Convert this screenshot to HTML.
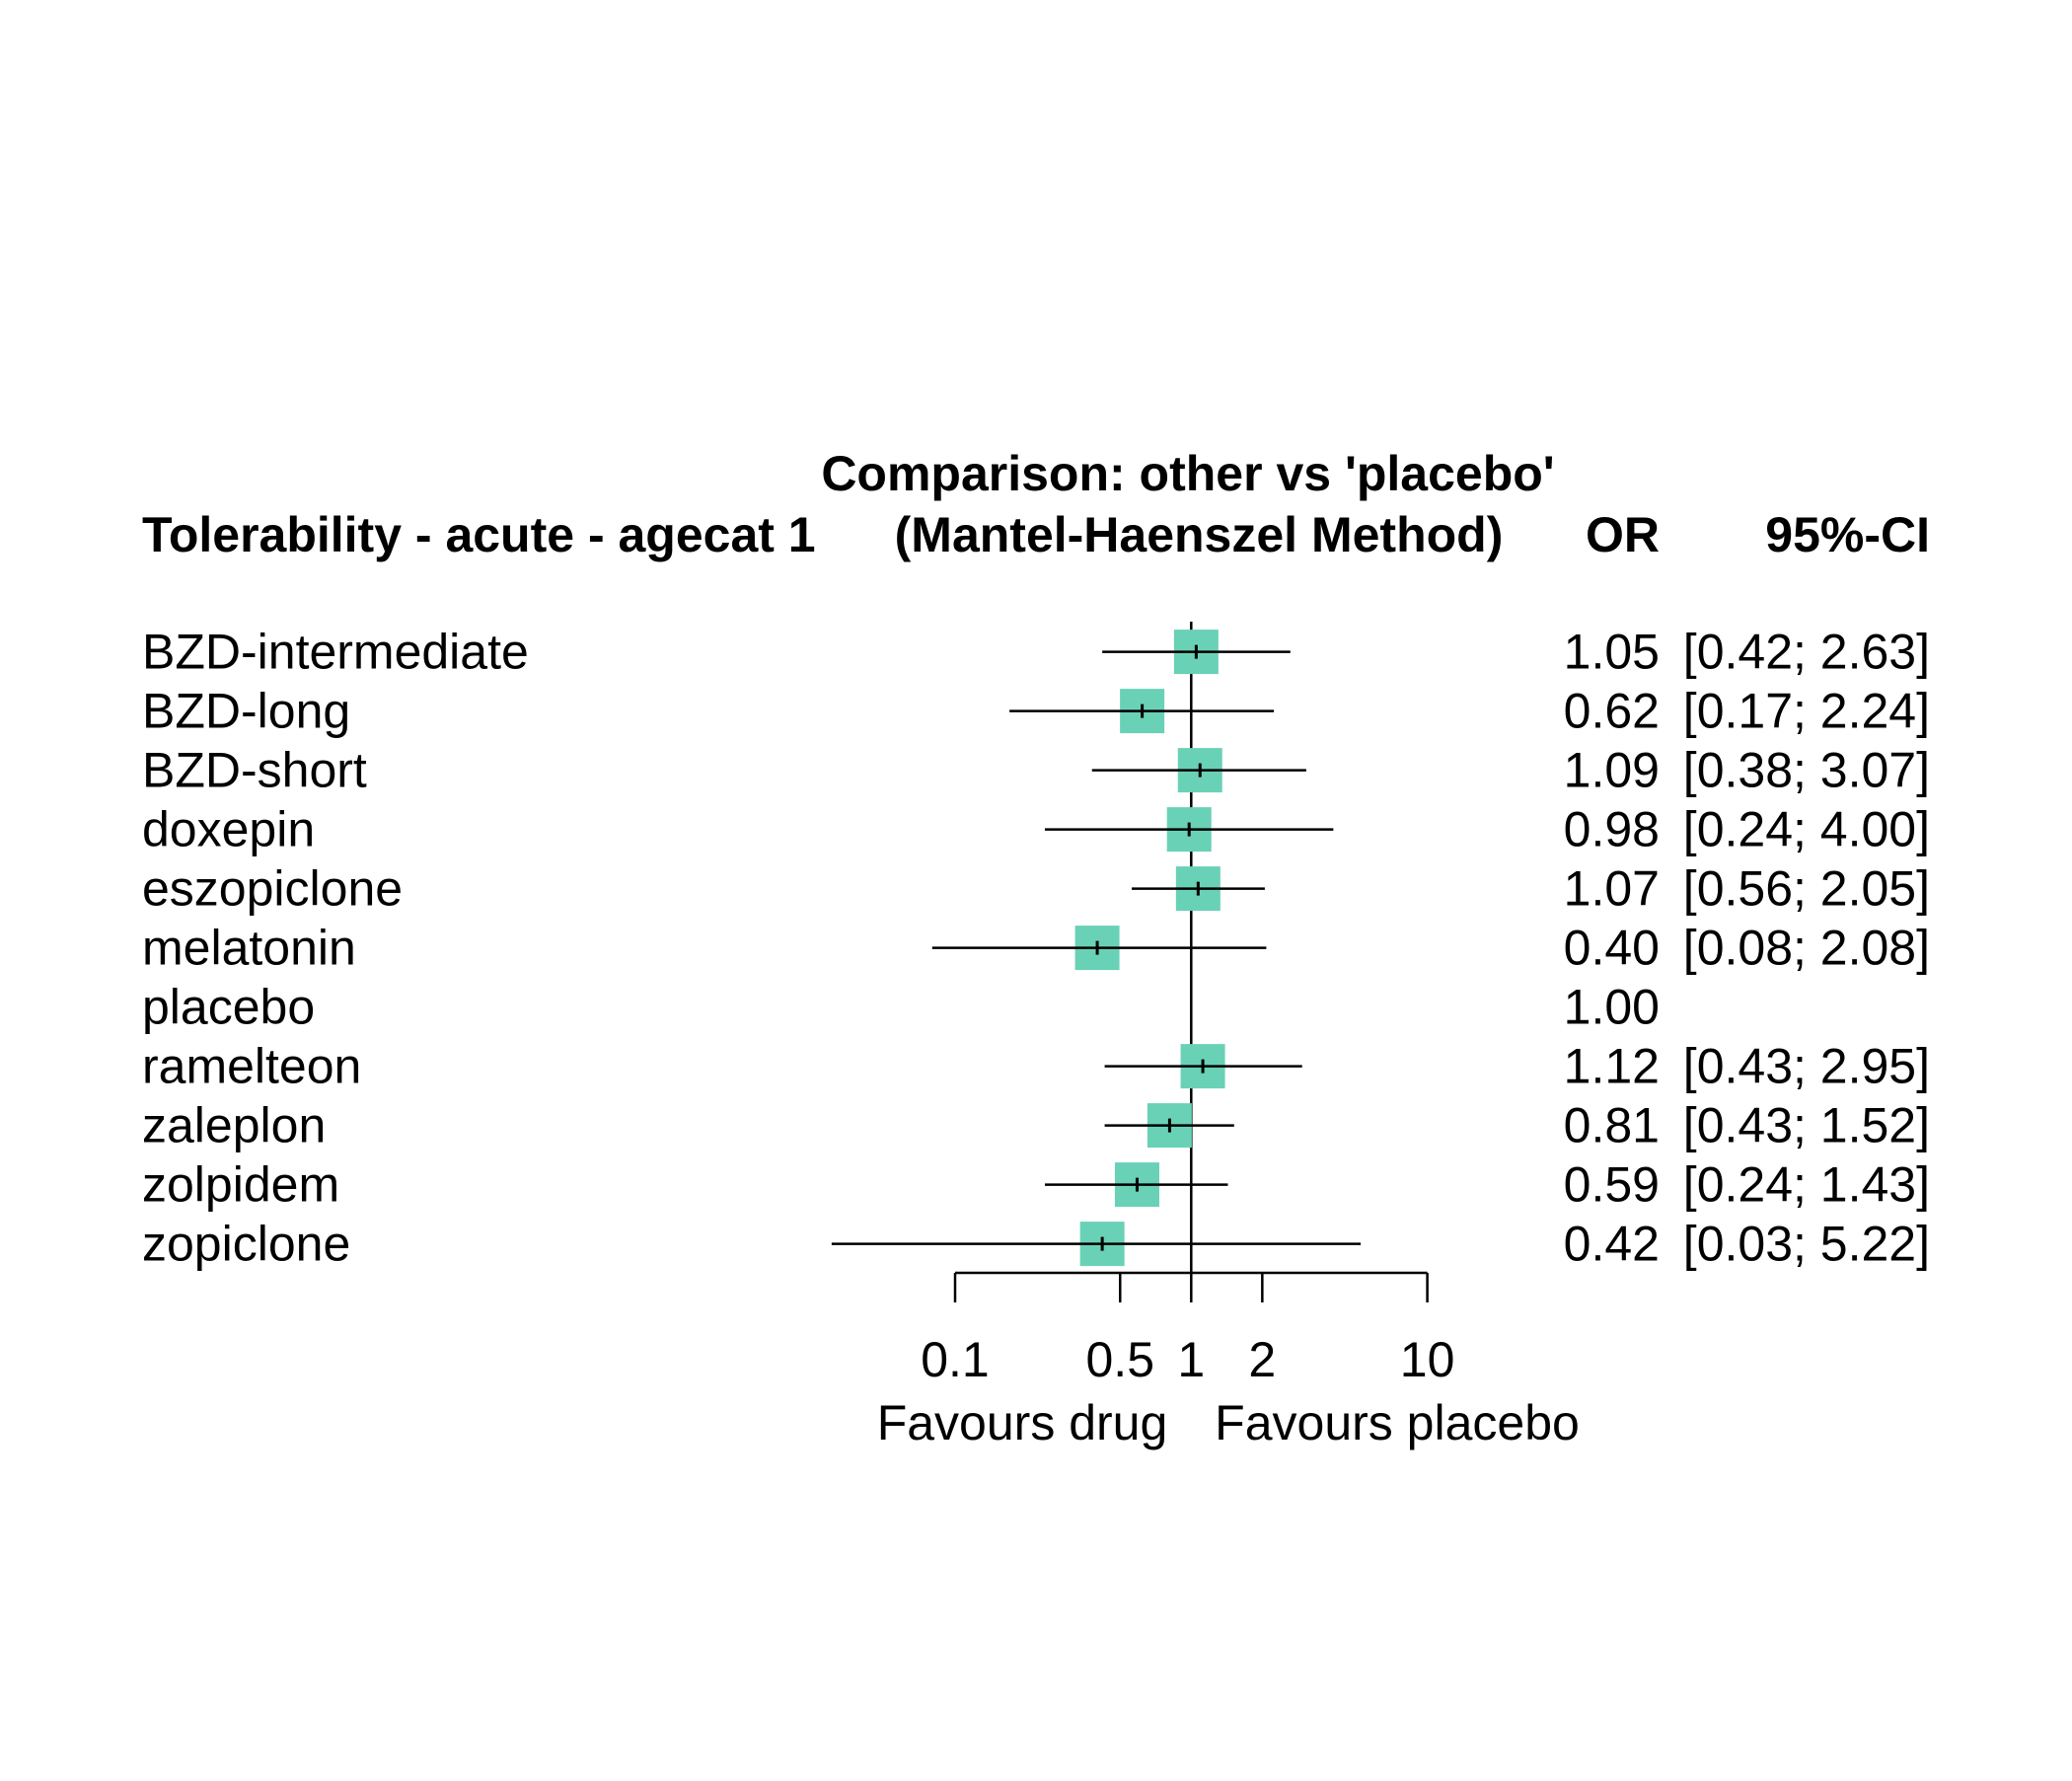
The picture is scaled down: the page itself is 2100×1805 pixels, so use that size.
<!DOCTYPE html>
<html><head><meta charset="utf-8"><style>
html,body{margin:0;padding:0;background:#fff}
svg text{font-family:"Liberation Sans",Arial,sans-serif;fill:#000}
</style></head><body>
<svg id="chart" width="2100" height="1800" viewBox="0 0 2100 1800" xmlns="http://www.w3.org/2000/svg">
<rect width="2100" height="1800" fill="#fff"/>
<g id="g"></g>
</svg>
<script>
const treatments=["BZD-intermediate","BZD-long","BZD-short","doxepin","eszopiclone","melatonin","placebo","ramelteon","zaleplon","zolpidem","zopiclone"];
const orValues=[1.05,0.62,1.09,0.98,1.07,0.40,1.00,1.12,0.81,0.59,0.42];
const lowerCI=[0.42,0.17,0.38,0.24,0.56,0.08,null,0.43,0.43,0.24,0.03];
const upperCI=[2.63,2.24,3.07,4.00,2.05,2.08,null,2.95,1.52,1.43,5.22];
const orLabels=["1.05","0.62","1.09","0.98","1.07","0.40","1.00","1.12","0.81","0.59","0.42"];
const ciLabels=["[0.42; 2.63]","[0.17; 2.24]","[0.38; 3.07]","[0.24; 4.00]","[0.56; 2.05]","[0.08; 2.08]","","[0.43; 2.95]","[0.43; 1.52]","[0.24; 1.43]","[0.03; 5.22]"];
const tickValues=[0.1,0.5,1,2,10];
const tickLabels=["0.1","0.5","1","2","10"];

const NS="http://www.w3.org/2000/svg";
const g=document.getElementById('g');
const x=v=>968+Math.log10(v/0.1)*239.3;
const y=i=>660.6+i*60;
const FS=50;
function mk(t,a,txt){const e=document.createElementNS(NS,t);for(const k in a)e.setAttribute(k,a[k]);if(txt!==undefined)e.textContent=txt;g.appendChild(e);return e;}
function tx(s,xx,yy,anchor,bold,name){const e=mk('text',{x:xx,y:yy,'font-size':FS,'text-anchor':anchor,'font-weight':bold?'bold':'normal','dominant-baseline':'central'},s);

return e;}

tx("Comparison: other vs 'placebo'",1204,480,'middle',true,'plot-title');
tx("(Mantel-Haenszel Method)",1215,542,'middle',true,'plot-subtitle');
tx("Tolerability - acute - agecat 1",144,542,'start',true,'outcome-title');
tx("OR",1682,542,'end',true,'or-header');
tx("95%-CI",1956,542,'end',true,'ci-header');

let rl=mk('line',{x1:x(1),x2:x(1),y1:630,y2:1290,stroke:'#000','stroke-width':2.5});



treatments.forEach((t,i)=>{
  const yy=y(i);
  tx(t,144,yy,'start',false,'label-'+t);
  tx(orLabels[i],1682,yy,'end',false,'or-'+t);
  if(ciLabels[i])tx(ciLabels[i],1956,yy,'end',false,'ci-'+t);
  if(lowerCI[i]!==null){
    const b=mk('rect',{x:x(orValues[i])-22.5,y:yy-22.5,width:45,height:45,fill:'#69d1b6'});
    
    
    const l=mk('line',{x1:x(lowerCI[i]),x2:x(upperCI[i]),y1:yy,y2:yy,stroke:'#000','stroke-width':2.5});
    
    
    const m=mk('line',{x1:x(orValues[i]),x2:x(orValues[i]),y1:yy-7,y2:yy+7,stroke:'#000','stroke-width':3});
    
    
  }
});

const ax=mk('line',{x1:x(0.1),x2:x(10),y1:1290,y2:1290,stroke:'#000','stroke-width':2.5});


tickValues.forEach((v,i)=>{
  const tk=mk('line',{x1:x(v),x2:x(v),y1:1290,y2:1320,stroke:'#000','stroke-width':2.5});
  
  
  tx(tickLabels[i],x(v),1378,'middle',false,'x-tick-label');
});
tx("Favours drug",1036,1442,'middle',false,'favours-drug-label');
tx("Favours placebo",1416,1442,'middle',false,'favours-placebo-label');
</script>
</body></html>
